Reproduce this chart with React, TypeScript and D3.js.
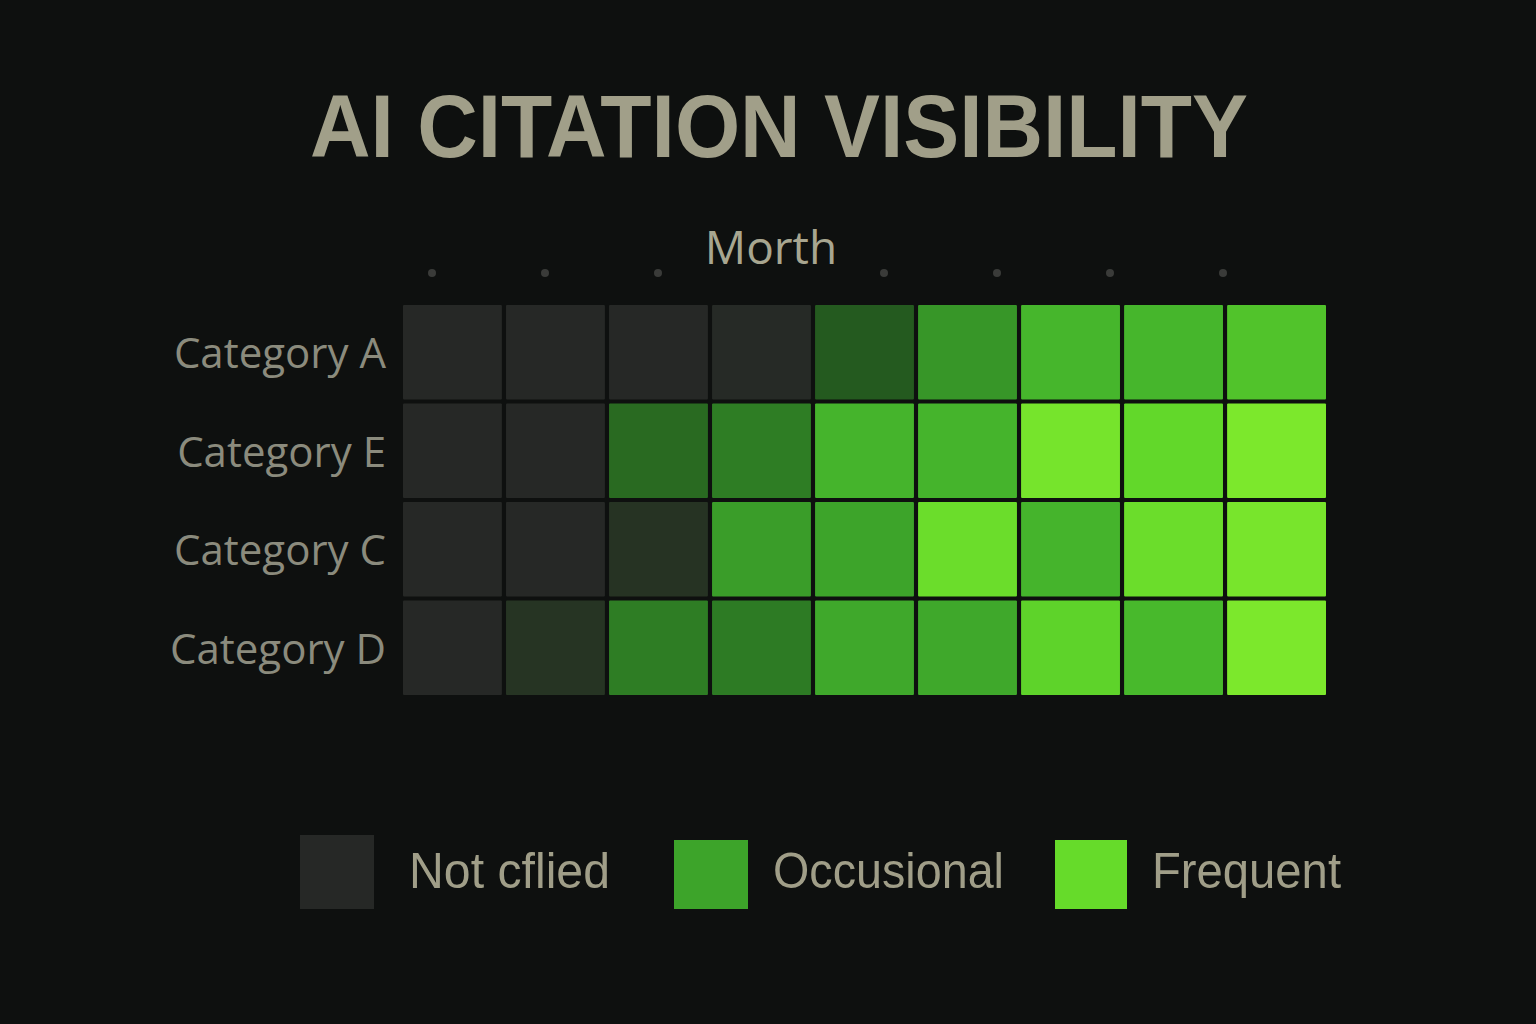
import React from "react";
import * as d3 from "d3";

const TITLE = "AI CITATION VISIBILITY";
const AXIS_LABEL = "Morth";
const columns = ["M1", "M2", "M3", "M4", "M5", "M6", "M7", "M8", "M9"];
const categories = ["Category A", "Category E", "Category C", "Category D"];
const tickMonths = ["Jan", "Feb", "Mar", "Apr", "May", "Jun", "Jul", "Aug"];
const hiddenTick = "Apr";

const rowA = [0, 0, 0, 3, 35, 60, 75, 75, 80];
const rowE = [0, 0, 42, 50, 74, 74, 97, 88, 100];
const rowC = [0, 0, 18, 63, 66, 92, 74, 92, 98];
const rowD = [0, 20, 50, 49, 68, 68, 86, 76, 100];
const rows = [rowA, rowE, rowC, rowD];

const legendLabels = ["Not cflied", "Occusional", "Frequent"];
const legendValues = [0, 66, 90];

const colorStops = [0, 20, 35, 50, 65, 75, 88, 100];
const colorRange = ["#262826", "#263423", "#245a1f", "#2e7d24", "#3ca22a", "#46b62c", "#62d82a", "#7ce82c"];

export default function App() {
  const W = 1536;
  const H = 1024;
  const x = d3.scaleBand<string>().domain(columns).range([403, 1326]).paddingInner(0.04).paddingOuter(0);
  const y = d3.scaleBand<string>().domain(categories).range([305, 695]).paddingInner(0.04).paddingOuter(0);
  const color = d3.scaleLinear<string>().domain(colorStops).range(colorRange).interpolate(d3.interpolateRgb).clamp(true);
  const tx = d3.scalePoint<string>().domain(tickMonths).range([432, 1223]);

  const cells = rows.flatMap((r, i) =>
    r.map((v, j) => ({ cat: categories[i], col: columns[j], v }))
  );

  const legendX = [300, 674, 1055];
  const legendTextX = [409, 773, 1152];
  const legendTextW = [201, 231, 189];

  return (
    <svg width={W} height={H} style={{ position: "absolute", left: 0, top: 0, display: "block" }}>
      <rect x={0} y={0} width={W} height={H} fill="#0e100f" />
      <text
        x={310}
        y={157}
        fontFamily="'Liberation Sans Narrow', 'Arial Narrow', 'Liberation Sans', sans-serif"
        fontWeight="bold"
        fontSize={89}
        fill="#a19f89"
        textLength={938}
        lengthAdjust="spacingAndGlyphs"
      >
        {TITLE}
      </text>
      <text x={771} y={264} textAnchor="middle" fontFamily="'Open Sans', 'Noto Sans', sans-serif" fontSize={46} fill="#a8a690">
        {AXIS_LABEL}
      </text>
      {tickMonths.filter((m) => m !== hiddenTick).map((m) => (
        <circle key={m} cx={tx(m)} cy={273} r={4} fill="#3a3b39" />
      ))}
      {categories.map((c) => (
        <text
          key={c}
          x={386}
          y={(y(c) as number) + y.bandwidth() / 2 + 16}
          textAnchor="end"
          fontFamily="'Open Sans', 'Noto Sans', sans-serif"
          fontSize={42}
          fill="#8b8b7d"
        >
          {c}
        </text>
      ))}
      {cells.map((d) => (
        <rect
          key={d.cat + d.col}
          x={x(d.col)}
          y={y(d.cat)}
          width={x.bandwidth()}
          height={y.bandwidth()}
          fill={color(d.v)}
          rx={1}
        />
      ))}
      {legendLabels.map((l, i) => (
        <g key={l}>
          <rect x={legendX[i]} y={i === 0 ? 835 : 840} width={i === 2 ? 72 : 74} height={i === 0 ? 74 : 69} fill={color(legendValues[i])} />
          <text
            x={legendTextX[i]}
            y={888}
            fontFamily="'Liberation Sans Narrow', 'Arial Narrow', 'Liberation Sans', sans-serif"
            fontSize={50}
            fill="#a09e88"
            textLength={legendTextW[i]}
            lengthAdjust="spacingAndGlyphs"
          >
            {l}
          </text>
        </g>
      ))}
    </svg>
  );
}
